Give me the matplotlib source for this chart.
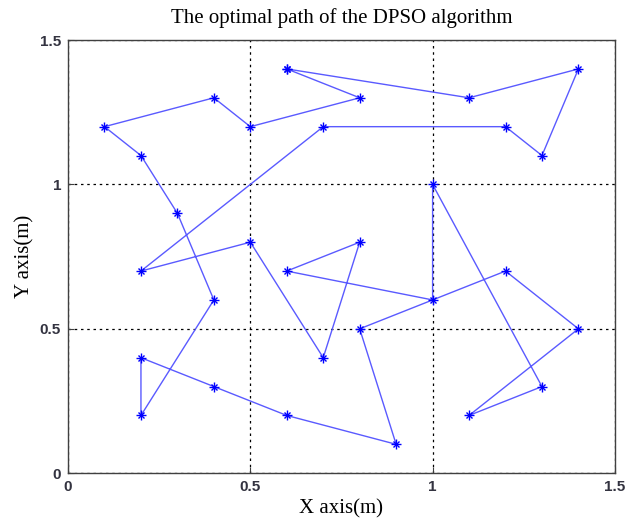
import matplotlib
matplotlib.use("Agg")
from matplotlib import pyplot as plt

# Path visiting order (closed loop back to the start)
x_path = [0.6, 1.1, 1.4, 1.3, 1.2, 0.7, 0.2, 0.5, 0.7, 0.8, 0.6, 1.0, 1.0, 1.3, 1.1,
          1.4, 1.2, 0.8, 0.9, 0.6, 0.4, 0.2, 0.2, 0.4, 0.3, 0.2, 0.1, 0.4, 0.5, 0.8, 0.6]
y_path = [1.4, 1.3, 1.4, 1.1, 1.2, 1.2, 0.7, 0.8, 0.4, 0.8, 0.7, 0.6, 1.0, 0.3, 0.2,
          0.5, 0.7, 0.5, 0.1, 0.2, 0.3, 0.4, 0.2, 0.6, 0.9, 1.1, 1.2, 1.3, 1.2, 1.3, 1.4]
ticks = [0, 0.5, 1, 1.5]
tick_labels = ['0', '0.5', '1', '1.5']

plt.figure(figsize=(6.3, 5.2), dpi=100)
ax = plt.axes([0.108, 0.090, 0.868, 0.833])

ax.plot(x_path, y_path, color='#5a5aff', linewidth=1.0)
# MATLAB style asterisk marker: plus and cross on top of each other
ax.plot(x_path, y_path, linestyle='none', marker='+', markersize=7,
        color='#0000ff', markeredgewidth=1.0)
ax.plot(x_path, y_path, linestyle='none', marker='x', markersize=5,
        color='#0000ff', markeredgewidth=1.0)

ax.set_xlim(0, 1.5)
ax.set_ylim(0, 1.5)
ax.set_xticks(ticks)
ax.set_xticklabels(tick_labels)
ax.set_yticks(ticks)
ax.set_yticklabels(tick_labels)
ax.tick_params(direction='in', length=4, labelsize=11, color='#404040', pad=5)
for lab in ax.get_xticklabels() + ax.get_yticklabels():
    lab.set_family('Liberation Sans')
    lab.set_fontweight('bold')
    lab.set_color('#333340')
for sp in ax.spines.values():
    sp.set_color('#404040')
    sp.set_linewidth(1.0)

ax.grid(True, linestyle=(0, (2, 3)), color='black', linewidth=0.9)

ax.set_title('The optimal path of the DPSO algorithm', family='Liberation Serif',
             fontsize=15, pad=12)
ax.set_xlabel('X axis(m)', family='Liberation Serif', fontsize=15, labelpad=4)
ax.set_ylabel('Y axis(m)', family='Liberation Serif', fontsize=15, labelpad=4)

plt.savefig('out.png')
